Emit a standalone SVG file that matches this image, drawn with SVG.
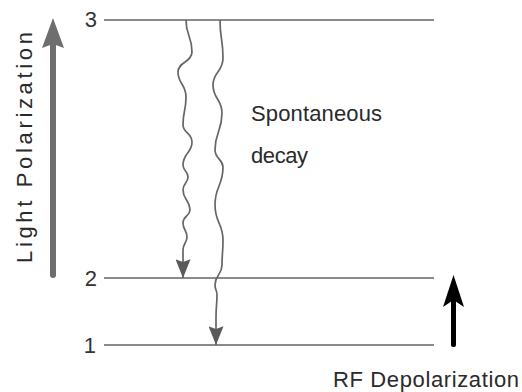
<svg xmlns="http://www.w3.org/2000/svg" width="522" height="392" viewBox="0 0 522 392">
  <style>
    .lvl { stroke: #8a8a8a; stroke-width: 2; fill: none; }
    .num { font-family: "Liberation Sans", Arial, sans-serif; font-size: 22px; fill: #333; text-anchor: end; }
    .lbl { font-family: "Liberation Sans", Arial, sans-serif; font-size: 22px; fill: #2a2a2a; }
    .wave { stroke: #666; stroke-width: 1.7; fill: none; marker-end: url(#head); }
  </style>
  <defs>
    <marker id="head" markerUnits="userSpaceOnUse" viewBox="0 0 20 16" refX="20" refY="8" markerWidth="20" markerHeight="15" orient="auto">
      <path d="M0,0 L20,8 L0,16 L3,8 z" fill="#5a5a5a"/>
    </marker>
  </defs>
  <rect width="522" height="392" fill="#fff"/>

  <g id="level3">
    <line class="lvl" x1="104" y1="20" x2="434" y2="20"/>
    <text class="num" x="97" y="27">3</text>
  </g>
  <g id="level2">
    <line class="lvl" x1="104" y1="278" x2="434" y2="278"/>
    <text class="num" x="97" y="286">2</text>
  </g>
  <g id="level1">
    <line class="lvl" x1="104" y1="345" x2="434" y2="345"/>
    <text class="num" x="96" y="353">1</text>
  </g>

  <g id="light-polarization">
    <rect x="50" y="42" width="6" height="236" rx="3" fill="#6e6e6e"/>
    <polygon points="53,18 64,48 53,44 42,48" fill="#6e6e6e"/>
    <text class="lbl" transform="translate(32,263) rotate(-90)" x="0" y="0" font-size="21" textLength="231" lengthAdjust="spacing">Light Polarization</text>
  </g>

  <g id="rf-depolarization">
    <rect x="451" y="298" width="5" height="49" rx="2" fill="#000"/>
    <polygon points="453.5,275 464,307 453.5,300 443,307" fill="#000"/>
    <text class="lbl" x="333" y="387" textLength="186" lengthAdjust="spacing">RF Depolarization</text>
  </g>

  <g id="spontaneous-label">
    <text class="lbl" x="251" y="121" textLength="131" lengthAdjust="spacing">Spontaneous</text>
    <text class="lbl" x="251" y="163" textLength="57" lengthAdjust="spacing">decay</text>
  </g>

  <g id="connectors">
    <path class="wave" d="M186,20 C186,36 192,36 192,52 C192,62 178,62 178,72 C178,84 186,84 186,97 C186,111 183,111 183,125 C183,133 192,133 192,142 C192,153 183,153 183,165 C183,171 188,171 188,177 C188,183 183,183 183,190 C183,200 190,200 190,210 C190,216 183,216 183,223 C183,230 187,230 187,237 C187,243 183,243 183,250 L183,278"/>
    <path class="wave" d="M220,20 C220,39 223,39 223,58 C223,72 213,72 213,85 C213,99 222,99 222,113 C222,132 215,132 215,150 C215,159 223,159 223,167 C223,186 215,186 215,205 C215,223 223,223 223,240 C223,253 222,253 222,265 C222,275 215,275 215,285 C215,290 217,290 217,295 C217,305 216,305 216,318 L216,345"/>
  </g>
</svg>
